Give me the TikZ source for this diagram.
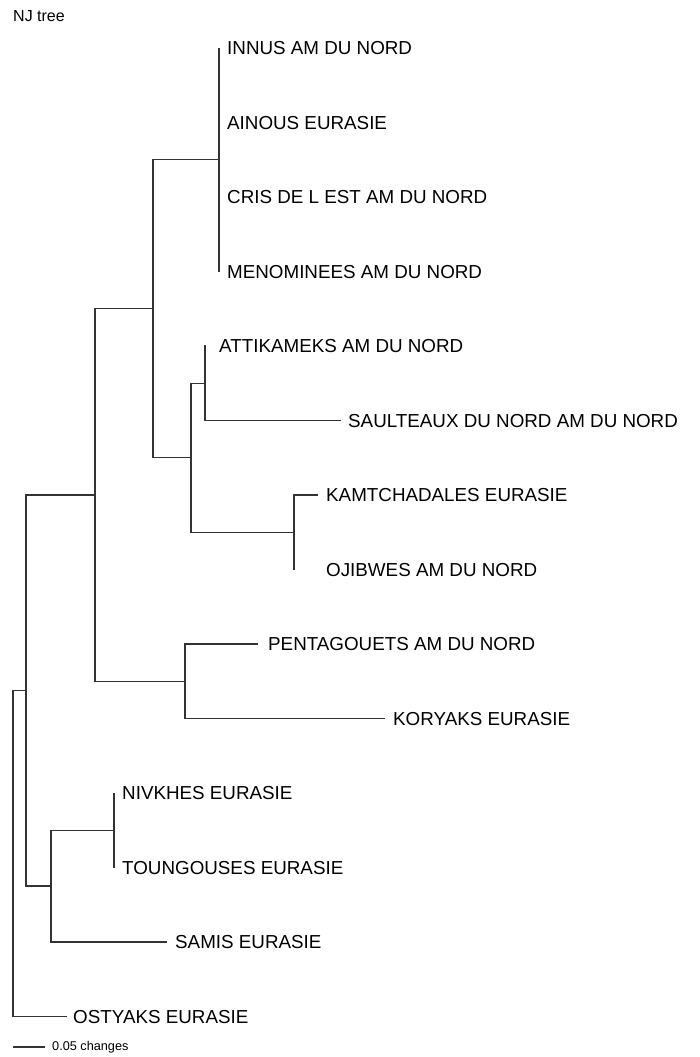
\documentclass[tikz,border=0pt]{standalone}
\usepackage{fontspec}
\setmainfont{Liberation Sans}
\usetikzlibrary{positioning}
\tikzset{
  branch/.style={draw=black!80, line width=1.4pt},
  taxon/.style={anchor=west, inner sep=0pt, font=\fontsize{18.8}{20}\selectfont,
    text height=13.5pt, text depth=0pt, text=black},
}
\begin{document}
\begin{tikzpicture}[x=1pt, y=-1pt, node distance=8pt]
\useasboundingbox (0,0) rectangle (700,1057);
\node[anchor=base west, inner sep=0pt, font=\fontsize{16}{18}\selectfont, text=black] (title) at (13,21.5) {NJ tree};

% internal nodes
\coordinate (root) at (13,853.5);
\coordinate (nH) at (26,690.6);
\coordinate (nG) at (95,495);
\coordinate (nB) at (153,308.75);
\coordinate (nA) at (219,159.75);
\coordinate (nC) at (191,457.75);
\coordinate (nD) at (205,383.25);
\coordinate (nE) at (294,532.25);
\coordinate (nF) at (185,681.25);
\coordinate (nI) at (51,886.1);
\coordinate (nJ) at (114,830.25);

% tips
\coordinate (tInnus) at (219,48);
\coordinate (tAinous) at (219,122.5);
\coordinate (tCris) at (219,197);
\coordinate (tMeno) at (219,271.5);
\coordinate (tAtti) at (206,346);
\coordinate (tSaul) at (341,420.5);
\coordinate (tKamt) at (318,495);
\coordinate (tOjib) at (294,569.5);
\coordinate (tPent) at (258,644);
\coordinate (tKory) at (385,718.5);
\coordinate (tNivk) at (114,793);
\coordinate (tToun) at (114,867.5);
\coordinate (tSami) at (167,942);
\coordinate (tOsty) at (67,1016.5);

\node[taxon, right=of tInnus] (innus) {INNUS AM DU NORD};
\node[taxon, right=of tAinous] (ainous) {AINOUS EURASIE};
\node[taxon, right=of tCris] (cris) {CRIS DE L EST AM DU NORD};
\node[taxon, right=of tMeno] (meno) {MENOMINEES AM DU NORD};
\node[taxon, right=13pt of tAtti] (atti) {ATTIKAMEKS AM DU NORD};
\node[taxon, right=7pt of tSaul] (saul) {SAULTEAUX DU NORD AM DU NORD};
\node[taxon, right=of tKamt] (kamt) {KAMTCHADALES EURASIE};
\node[taxon, right=32pt of tOjib] (ojib) {OJIBWES AM DU NORD};
\node[taxon, right=10pt of tPent] (pent) {PENTAGOUETS AM DU NORD};
\node[taxon, right=of tKory] (kory) {KORYAKS EURASIE};
\node[taxon, right=of tNivk] (nivk) {NIVKHES EURASIE};
\node[taxon, right=of tToun] (toun) {TOUNGOUSES EURASIE};
\node[taxon, right=of tSami] (sami) {SAMIS EURASIE};
\node[taxon, right=6pt of tOsty] (osty) {OSTYAKS EURASIE};

% branches
\draw[branch] (root) |- (nH);
\draw[branch] (root) |- (tOsty);
\draw[branch] (nH) |- (nG);
\draw[branch] (nH) |- (nI);
\draw[branch] (nG) |- (nB);
\draw[branch] (nG) |- (nF);
\draw[branch] (nB) |- (nA);
\draw[branch] (nB) |- (nC);
\draw[branch] (nA) |- (tInnus);
\draw[branch] (nA) |- (tMeno);
\draw[branch] (nC) |- (nD);
\draw[branch] (nC) |- (nE);
\draw[branch] (nD) |- (tAtti);
\draw[branch] (nD) |- (tSaul);
\draw[branch] (nE) |- (tKamt);
\draw[branch] (nE) |- (tOjib);
\draw[branch] (nF) |- (tPent);
\draw[branch] (nF) |- (tKory);
\draw[branch] (nI) |- (nJ);
\draw[branch] (nI) |- (tSami);
\draw[branch] (nJ) |- (tNivk);
\draw[branch] (nJ) |- (tToun);

% scale bar
\coordinate (bar0) at (13,1047);
\coordinate (bar1) at (45,1047);
\draw[branch] (bar0) -- (bar1);
\node[anchor=west, inner sep=0pt, font=\fontsize{12.7}{14}\selectfont, text=black, right=7pt of bar1] (scale) {0.05 changes};
\end{tikzpicture}
\end{document}
